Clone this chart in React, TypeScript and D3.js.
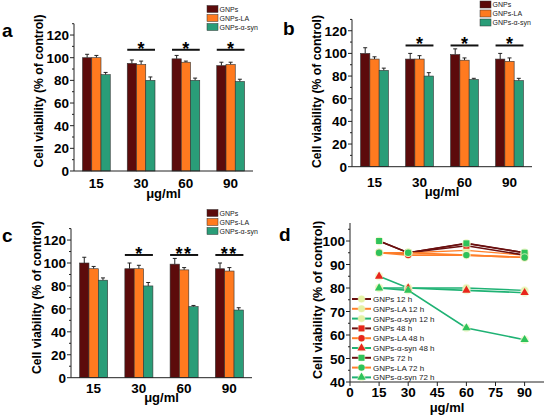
import React from "react";
import * as d3 from "d3";

// ---------- DATA ----------
const concentrations = ["15", "30", "60", "90"];
const barSeries = ["GNPs", "GNPs-LA", "GNPs-α-syn"];

const aGNPs = [100, 95, 99, 93];
const aLA = [100, 94, 96, 94];
const aSyn = [85, 80, 80, 79];
const aErrGNPs = [3, 3, 3, 3];
const aErrLA = [2, 3, 1, 2];
const aErrSyn = [2, 3, 2, 2];
const aSig = ["", "*", "*", "*"];

const bGNPs = [100, 95, 99, 95];
const bLA = [95, 95, 94, 93];
const bSyn = [85, 80, 77, 76];
const bErrGNPs = [5, 5, 5, 5];
const bErrLA = [2, 3, 2, 3];
const bErrSyn = [2, 3, 1, 2];
const bSig = ["", "*", "*", "*"];

const cGNPs = [100, 95, 99, 95];
const cLA = [95, 95, 94, 93];
const cSyn = [85, 80, 62, 59];
const cErrGNPs = [5, 5, 5, 5];
const cErrLA = [2, 3, 2, 3];
const cErrSyn = [2, 3, 1, 2];
const cSig = ["", "*", "**", "**"];

const barTicks = [0, 20, 40, 60, 80, 100, 120];

const dConc = [15, 30, 60, 90];
const dXTicks = [0, 15, 30, 45, 60, 75, 90];
const dYTicks = [40, 50, 60, 70, 80, 90, 100];
const dNames = [
  "GNPs 12 h", "GNPs-LA 12 h", "GNPs-α-syn 12 h",
  "GNPs 48 h", "GNPs-LA 48 h", "GNPs-α-syn 48 h",
  "GNPs 72 h", "GNPs-LA 72 h", "GNPs-α-syn 72 h",
];
const dGNPs12 = [100, 95, 99, 95];
const dLA12 = [95, 95, 96, 94];
const dSyn12 = [80, 80, 80, 79];
const dGNPs48 = [95, 95, 98, 94];
const dLA48 = [95, 94, 94, 93];
const dSyn48 = [85, 80, 79, 78];
const dGNPs72 = [100, 95, 99, 95];
const dLA72 = [95, 95, 94, 93];
const dSyn72 = [80, 79, 63, 58];

// ---------- STYLE ----------
const FONT = "'Liberation Sans', Arial, Helvetica, sans-serif";
const barColors = ["#5c0b0b", "#ff7a1f", "#2a9d78"];
const lineColors = { gnps: "#6a0f0f", la: "#ff7f2a", syn: "#1fb274" };
const markerColors = { h12: "#e4f2a6", h48: "#e8261c", h72: "#2ec35a" };
const AXIS = "#222";

type BarProps = {
  left: number; right: number; zeroY: number; pxPerUnit: number;
  values: number[][]; errors: number[][]; sig: string[];
  letter: string; letterX: number; letterY: number;
  labelX: number; labelY: number;
  legendX: number; legendY: number;
  tickLabelY: number; unitY: number;
};

function BarPanel(p: BarProps) {
  const y = d3.scaleLinear().domain([0, 130]).range([p.zeroY, p.zeroY - 130 * p.pxPerUnit]);
  const x = d3.scaleBand<string>().domain(concentrations).range([p.left, p.right])
    .paddingInner(0.38).paddingOuter(0.19);
  const xs = d3.scaleBand<string>().domain(barSeries).range([0, x.bandwidth()]).padding(0);
  const minor = d3.range(10, 131, 20);
  const cx = (p.left + p.right) / 2;
  return (
    <g fontFamily={FONT}>
      <text x={p.letterX} y={p.letterY} fontSize={19} fontWeight="bold">{p.letter}</text>
      {concentrations.map((c, i) => (
        <g key={c}>
          {barSeries.map((s, j) => {
            const v = p.values[j][i];
            const e = p.errors[j][i];
            const bx = (x(c) as number) + (xs(s) as number);
            const w = xs.bandwidth();
            return (
              <g key={s}>
                <line x1={bx + w / 2} x2={bx + w / 2} y1={y(v)} y2={y(v + e)} stroke={AXIS} strokeWidth={1} />
                <line x1={bx + w / 2 - 2} x2={bx + w / 2 + 2} y1={y(v + e)} y2={y(v + e)} stroke={AXIS} strokeWidth={1} />
                <rect x={bx} y={y(v)} width={w} height={y(0) - y(v)} fill={barColors[j]} stroke="#333" strokeWidth={0.6} />
              </g>
            );
          })}
          {p.sig[i] && (
            <g>
              <line x1={x(c) as number} x2={(x(c) as number) + x.bandwidth()} y1={y(107)} y2={y(107)} stroke="#111" strokeWidth={2} />
              <text x={(x(c) as number) + x.bandwidth() / 2} y={y(107) + 5} textAnchor="middle" fontSize={18} fontWeight="bold" letterSpacing={p.sig[i].length > 1 ? 1.5 : 0}>{p.sig[i]}</text>
            </g>
          )}
          <text x={(x(c) as number) + x.bandwidth() / 2} y={p.tickLabelY} textAnchor="middle" fontSize={13.5} fontWeight="bold">{c}</text>
        </g>
      ))}
      <line x1={p.left} x2={p.left} y1={y(0)} y2={y(130)} stroke={AXIS} strokeWidth={1} />
      <line x1={p.left} x2={p.right} y1={y(0)} y2={y(0)} stroke={AXIS} strokeWidth={1} />
      {barTicks.map((t) => (
        <g key={t}>
          <line x1={p.left - 4} x2={p.left} y1={y(t)} y2={y(t)} stroke={AXIS} strokeWidth={1} />
          <text x={p.left - 5} y={y(t) + 5} textAnchor="end" fontSize={13.5} fontWeight="bold">{t}</text>
        </g>
      ))}
      {minor.map((t) => (
        <line key={t} x1={p.left - 2} x2={p.left} y1={y(t)} y2={y(t)} stroke={AXIS} strokeWidth={1} />
      ))}
      <text x={cx} y={p.unitY} textAnchor="middle" fontSize={13} fontWeight="bold">μg/ml</text>
      <text transform={`translate(${p.labelX},${p.labelY}) rotate(-90)`} textAnchor="middle" dominantBaseline="central" fontSize={12.2} fontWeight="bold">Cell viability (% of control)</text>
      {barSeries.map((s, j) => (
        <g key={s}>
          <rect x={p.legendX} y={p.legendY + j * 9 - 3.5} width={11} height={7} fill={barColors[j]} stroke="#333" strokeWidth={0.5} />
          <text x={p.legendX + 12.5} y={p.legendY + j * 9 + 2.5} fontSize={7} fill="#222">{s}</text>
        </g>
      ))}
    </g>
  );
}

type Marker = "circle" | "square" | "triangle";

function MarkerShape({ kind, cx, cy, fill }: { kind: Marker; cx: number; cy: number; fill: string }) {
  if (kind === "square") return <rect x={cx - 3} y={cy - 3} width={6} height={6} fill={fill} />;
  if (kind === "triangle") {
    const sym = d3.symbol().type(d3.symbolTriangle).size(30)();
    return <path d={sym as string} transform={`translate(${cx},${cy})`} fill={fill} />;
  }
  return <circle cx={cx} cy={cy} r={3.2} fill={fill} />;
}

function LinePanel() {
  const left = 350, right = 544;
  const x = d3.scaleLinear().domain([0, 100]).range([left, right]);
  const y = d3.scaleLinear().domain([40, 100]).range([382, 241]);
  const top = 223;
  const series = [
    { name: dNames[0], vals: dGNPs12, color: lineColors.gnps, mk: "circle" as Marker, mc: markerColors.h12, w: 1.4 },
    { name: dNames[1], vals: dLA12, color: lineColors.la, mk: "circle" as Marker, mc: markerColors.h12, w: 1.4 },
    { name: dNames[2], vals: dSyn12, color: lineColors.syn, mk: "circle" as Marker, mc: markerColors.h12, w: 1.4 },
    { name: dNames[3], vals: dGNPs48, color: lineColors.gnps, mk: "square" as Marker, mc: markerColors.h48, w: 1.6 },
    { name: dNames[4], vals: dLA48, color: lineColors.la, mk: "circle" as Marker, mc: markerColors.h48, w: 1.6 },
    { name: dNames[5], vals: dSyn48, color: lineColors.syn, mk: "triangle" as Marker, mc: markerColors.h48, w: 1.6 },
    { name: dNames[6], vals: dGNPs72, color: lineColors.gnps, mk: "square" as Marker, mc: markerColors.h72, w: 1.6 },
    { name: dNames[7], vals: dLA72, color: lineColors.la, mk: "circle" as Marker, mc: markerColors.h72, w: 1.6 },
    { name: dNames[8], vals: dSyn72, color: lineColors.syn, mk: "triangle" as Marker, mc: markerColors.h72, w: 1.6 },
  ];
  const line = d3.line<number>().x((_, i) => x(dConc[i])).y((v) => y(v));
  const minorY = d3.range(45, 106, 10);
  return (
    <g fontFamily={FONT}>
      <text x={279} y={241} fontSize={19} fontWeight="bold">d</text>
      {series.map((s) => (
        <path key={s.name} d={line(s.vals) as string} fill="none" stroke={s.color} strokeWidth={s.w} />
      ))}
      {series.map((s) => (
        <g key={s.name + "m"}>
          {s.vals.map((v, i) => (
            <g key={i}>
              <circle cx={x(dConc[i])} cy={y(v)} r={4.2} fill="#eef7c4" opacity={0.7} />
              <MarkerShape kind={s.mk} cx={x(dConc[i])} cy={y(v)} fill={s.mc} />
            </g>
          ))}
        </g>
      ))}
      <line x1={left} x2={left} y1={y(40)} y2={top} stroke={AXIS} strokeWidth={1} />
      <line x1={left} x2={right} y1={y(40)} y2={y(40)} stroke={AXIS} strokeWidth={1} />
      {dYTicks.map((t) => (
        <g key={t}>
          <line x1={left - 4} x2={left} y1={y(t)} y2={y(t)} stroke={AXIS} />
          <text x={left - 5} y={y(t) + 5} textAnchor="end" fontSize={13.5} fontWeight="bold">{t}</text>
        </g>
      ))}
      {minorY.map((t) => (
        <line key={t} x1={left - 2} x2={left} y1={y(t)} y2={y(t)} stroke={AXIS} />
      ))}
      {dXTicks.map((t) => (
        <g key={t}>
          <line x1={x(t)} x2={x(t)} y1={y(40)} y2={y(40) + 4} stroke={AXIS} />
          <text x={x(t)} y={397} textAnchor="middle" fontSize={13.5} fontWeight="bold">{t}</text>
        </g>
      ))}
      <text x={(left + right) / 2} y={412} textAnchor="middle" fontSize={13} fontWeight="bold">μg/ml</text>
      <text transform={`translate(318,300) rotate(-90)`} textAnchor="middle" dominantBaseline="central" fontSize={12.6} fontWeight="bold">Cell viability (% of control)</text>
      {series.map((s, i) => {
        const ly = 299 + i * 9.8;
        return (
          <g key={s.name + "l"}>
            <line x1={352} x2={371} y1={ly} y2={ly} stroke={s.color} strokeWidth={2} />
            <circle cx={361.5} cy={ly} r={3.8} fill="#eef7c4" opacity={0.7} />
            <MarkerShape kind={s.mk} cx={361.5} cy={ly} fill={s.mc} />
            <text x={373} y={ly + 3} fontSize={8} fill="#222">{s.name}</text>
          </g>
        );
      })}
    </g>
  );
}

export default function App() {
  return (
    <svg width={547} height={419} style={{ position: "absolute", left: 0, top: 0, background: "#fff" }}>
      <rect width={547} height={419} fill="#fff" />
      <BarPanel left={74} right={253} zeroY={171} pxPerUnit={1.133}
        values={[aGNPs, aLA, aSyn]} errors={[aErrGNPs, aErrLA, aErrSyn]} sig={aSig}
        letter="a" letterX={2} letterY={37} labelX={39} labelY={91}
        legendX={207} legendY={9} tickLabelY={188} unitY={198} />
      <BarPanel left={352} right={532} zeroY={166.7} pxPerUnit={1.133}
        values={[bGNPs, bLA, bSyn]} errors={[bErrGNPs, bErrLA, bErrSyn]} sig={bSig}
        letter="b" letterX={283} letterY={35} labelX={317} labelY={91.5}
        legendX={480} legendY={4.5} tickLabelY={187} unitY={196} />
      <BarPanel left={71} right={252} zeroY={377.7} pxPerUnit={1.147}
        values={[cGNPs, cLA, cSyn]} errors={[cErrGNPs, cErrLA, cErrSyn]} sig={cSig}
        letter="c" letterX={2} letterY={242} labelX={37} labelY={297.5}
        legendX={207} legendY={213} tickLabelY={393} unitY={402} />
      <LinePanel />
    </svg>
  );
}
